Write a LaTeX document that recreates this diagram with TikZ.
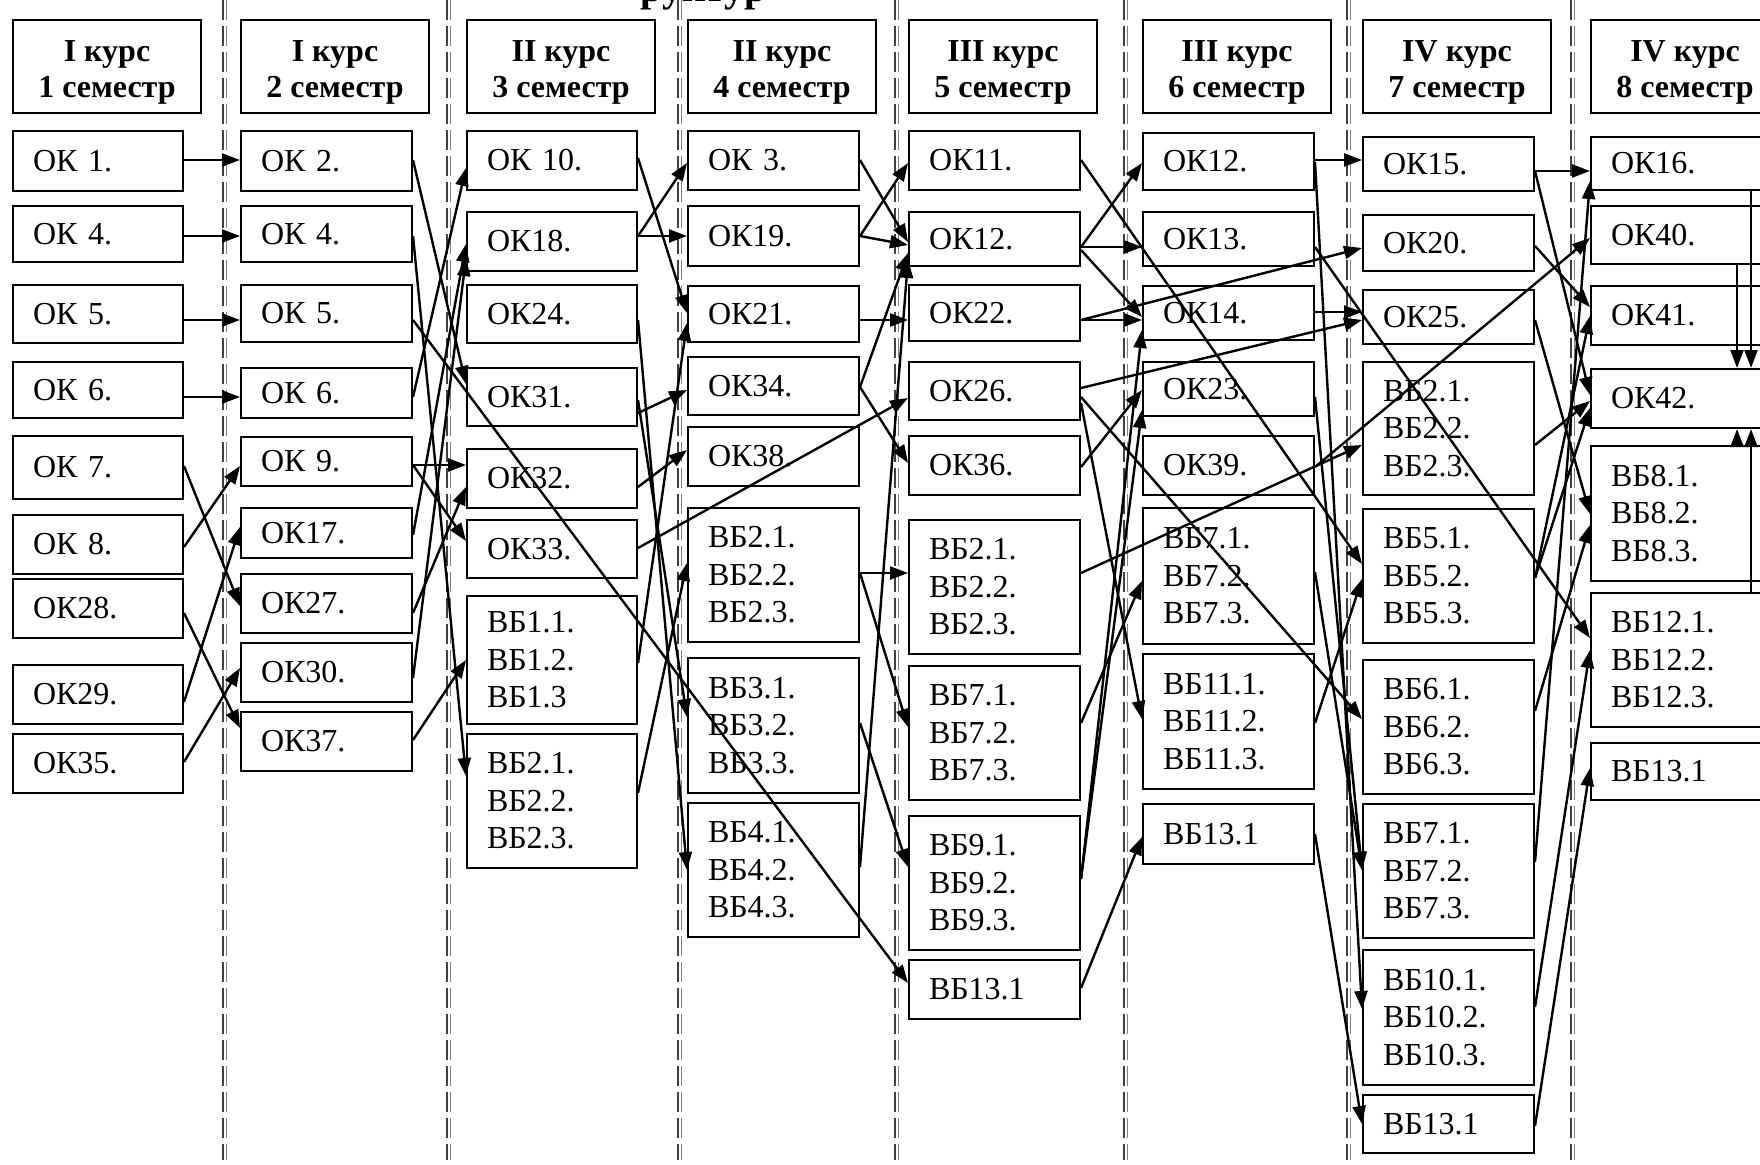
\documentclass[tikz,border=0pt]{standalone}
\usepackage{fontspec}
\setmainfont{Liberation Serif}
\usetikzlibrary{arrows.meta}
\tikzset{
  bxs/.style={draw, line width=2pt, inner xsep=20pt, inner ysep=0pt, align=left, font=\fontsize{32}{37.5}\selectfont, anchor=center},
  hdr/.style={draw, line width=2pt, inner sep=0pt, minimum width=188pt, minimum height=93pt, align=center, font=\bfseries\fontsize{32}{36}\selectfont},
  arr/.style={line width=2.4pt, -{Triangle[length=18pt,width=13pt]}},
  sepa/.style={line width=1.6pt, black!75, dash pattern=on 20pt off 6pt},
  sepb/.style={line width=1pt, black!50, dash pattern=on 20pt off 6pt},
}
\newcommand\mybox[6]{%
  \pgfmathsetmacro\mybw{#4-#2}%
  \pgfmathsetmacro\mybh{#5-#3}%
  \pgfmathsetmacro\mybtw{#4-#2-40}%
  \pgfmathsetmacro\mybcx{(#2+#4)/2}%
  \pgfmathsetmacro\mybcy{(#3+#5)/2}%
  \node[bxs, minimum width=\mybw pt, minimum height=\mybh pt, text width=\mybtw pt] (#1) at (\mybcx,\mybcy) {#6};}
\newcommand\cn[4]{\draw[arr] (#1.east |- 0,#2) -- (#3.west |- 0,#4);}
\newcommand\hstrut{\rule{0pt}{33pt}}
\begin{document}
\begin{tikzpicture}[x=1pt,y=-1pt]
\useasboundingbox (0,0) rectangle (1760,1164);
\clip (0,0) rectangle (1760,1164);
% separators
\foreach \sx in {223,447,678,895,1124,1347,1571} {
  \draw[sepa] (\sx,0) -- (\sx,1160);
  \draw[sepb] ({\sx+3},0) -- ({\sx+3},1160);
}
% partial title (cut off at the top edge, as in the reference)
\node[font=\bfseries\fontsize{40}{44}\selectfont, anchor=base, inner sep=0pt] (ttl) at (704,2) {руктур};
% headers
\node[hdr] (h1) at (107,66.5) {\hstrut I курс\\1 семестр};
\node[hdr] (h2) at (335,66.5) {\hstrut I курс\\2 семестр};
\node[hdr] (h3) at (561,66.5) {\hstrut II курс\\3 семестр};
\node[hdr] (h4) at (782,66.5) {\hstrut II курс\\4 семестр};
\node[hdr] (h5) at (1003,66.5) {\hstrut III курс\\5 семестр};
\node[hdr] (h6) at (1237,66.5) {\hstrut III курс\\6 семестр};
\node[hdr] (h7) at (1457,66.5) {\hstrut IV курс\\7 семестр};
\node[hdr] (h8) at (1685,66.5) {\hstrut IV курс\\8 семестр};
% column 1
\mybox{c1a}{13}{131}{183}{191}{ОК 1.}
\mybox{c1b}{13}{206}{183}{262}{ОК 4.}
\mybox{c1c}{13}{285}{183}{343}{ОК 5.}
\mybox{c1d}{13}{362}{183}{418}{ОК 6.}
\mybox{c1e}{13}{436}{183}{499}{ОК 7.}
\mybox{c1f}{13}{515}{183}{574}{ОК 8.}
\mybox{c1g}{13}{579}{183}{638}{ОК28.}
\mybox{c1h}{13}{665}{183}{724}{ОК29.}
\mybox{c1i}{13}{734}{183}{793}{ОК35.}
% column 2
\mybox{c2a}{241}{131}{412}{191}{ОК 2.}
\mybox{c2b}{241}{206}{412}{262}{ОК 4.}
\mybox{c2c}{241}{285}{412}{342}{ОК 5.}
\mybox{c2d}{241}{368}{412}{418}{ОК 6.}
\mybox{c2e}{241}{437}{412}{486}{ОК 9.}
\mybox{c2f}{241}{508}{412}{558}{ОК17.}
\mybox{c2g}{241}{574}{412}{633}{ОК27.}
\mybox{c2h}{241}{643}{412}{702}{ОК30.}
\mybox{c2i}{241}{712}{412}{771}{ОК37.}
% column 3
\mybox{c3a}{467}{131}{637}{190}{ОК 10.}
\mybox{c3b}{467}{212}{637}{271}{ОК18.}
\mybox{c3c}{467}{285}{637}{343}{ОК24.}
\mybox{c3d}{467}{368}{637}{426}{ОК31.}
\mybox{c3e}{467}{449}{637}{508}{ОК32.}
\mybox{c3f}{467}{520}{637}{578}{ОК33.}
\mybox{c3g}{467}{596}{637}{724}{ВБ1.1.\\ВБ1.2.\\ВБ1.3}
\mybox{c3h}{467}{734}{637}{868}{ВБ2.1.\\ВБ2.2.\\ВБ2.3.}
% column 4
\mybox{c4a}{688}{131}{859}{190}{ОК 3.}
\mybox{c4b}{688}{206}{859}{266}{ОК19.}
\mybox{c4c}{688}{286}{859}{342}{ОК21.}
\mybox{c4d}{688}{357}{859}{415}{ОК34.}
\mybox{c4e}{688}{427}{859}{486}{ОК38.}
\mybox{c4f}{688}{508}{859}{642}{ВБ2.1.\\ВБ2.2.\\ВБ2.3.}
\mybox{c4g}{688}{658}{859}{793}{ВБ3.1.\\ВБ3.2.\\ВБ3.3.}
\mybox{c4h}{688}{803}{859}{937}{ВБ4.1.\\ВБ4.2.\\ВБ4.3.}
% column 5
\mybox{c5a}{909}{131}{1080}{190}{ОК11.}
\mybox{c5b}{909}{212}{1080}{266}{ОК12.}
\mybox{c5c}{909}{285}{1080}{341}{ОК22.}
\mybox{c5d}{909}{362}{1080}{420}{ОК26.}
\mybox{c5e}{909}{436}{1080}{495}{ОК36.}
\mybox{c5f}{909}{520}{1080}{654}{ВБ2.1.\\ВБ2.2.\\ВБ2.3.}
\mybox{c5g}{909}{666}{1080}{800}{ВБ7.1.\\ВБ7.2.\\ВБ7.3.}
\mybox{c5h}{909}{816}{1080}{950}{ВБ9.1.\\ВБ9.2.\\ВБ9.3.}
\mybox{c5i}{909}{960}{1080}{1019}{ВБ13.1}
% column 6
\mybox{c6a}{1143}{133}{1314}{190}{ОК12.}
\mybox{c6b}{1143}{212}{1314}{266}{ОК13.}
\mybox{c6c}{1143}{286}{1314}{340}{ОК14.}
\mybox{c6d}{1143}{362}{1314}{416}{ОК23.}
\mybox{c6e}{1143}{436}{1314}{495}{ОК39.}
\mybox{c6f}{1143}{508}{1314}{644}{ВБ7.1.\\ВБ7.2.\\ВБ7.3.}
\mybox{c6g}{1143}{654}{1314}{789}{ВБ11.1.\\ВБ11.2.\\ВБ11.3.}
\mybox{c6h}{1143}{804}{1314}{864}{ВБ13.1}
% column 7
\mybox{c7a}{1363}{137}{1534}{191}{ОК15.}
\mybox{c7b}{1363}{215}{1534}{271}{ОК20.}
\mybox{c7c}{1363}{290}{1534}{344}{ОК25.}
\mybox{c7d}{1363}{362}{1534}{495}{ВБ2.1.\\ВБ2.2.\\ВБ2.3.}
\mybox{c7e}{1363}{509}{1534}{643}{ВБ5.1.\\ВБ5.2.\\ВБ5.3.}
\mybox{c7f}{1363}{660}{1534}{794}{ВБ6.1.\\ВБ6.2.\\ВБ6.3.}
\mybox{c7g}{1363}{804}{1534}{938}{ВБ7.1.\\ВБ7.2.\\ВБ7.3.}
\mybox{c7h}{1363}{950}{1534}{1085}{ВБ10.1.\\ВБ10.2.\\ВБ10.3.}
\mybox{c7i}{1363}{1095}{1534}{1153}{ВБ13.1}
% column 8
\mybox{c8a}{1591}{137}{1762}{190}{ОК16.}
\mybox{c8b}{1591}{206}{1762}{264}{ОК40.}
\mybox{c8c}{1591}{286}{1762}{345}{ОК41.}
\mybox{c8d}{1591}{369}{1762}{428}{ОК42.}
\mybox{c8e}{1591}{446}{1762}{581}{ВБ8.1.\\ВБ8.2.\\ВБ8.3.}
\mybox{c8f}{1591}{593}{1762}{727}{ВБ12.1.\\ВБ12.2.\\ВБ12.3.}
\mybox{c8g}{1591}{743}{1762}{800}{ВБ13.1}
% col1 -> col2
\cn{c1a}{160}{c2a}{160}
\cn{c1b}{236}{c2b}{236}
\cn{c1c}{320}{c2c}{320}
\cn{c1d}{397}{c2d}{397}
\cn{c1e}{466}{c2g}{606}
\cn{c1f}{547}{c2e}{466}
\cn{c1g}{613}{c2i}{728}
\cn{c1h}{702}{c2f}{527}
\cn{c1i}{762}{c2h}{668}
% col2 -> col3
\cn{c2a}{160}{c3d}{384}
\cn{c2b}{236}{c3h}{776}
\cn{c2c}{320}{c5i}{983}
\cn{c2d}{397}{c3a}{168}
\cn{c2e}{465}{c3e}{465}
\cn{c2e}{465}{c3f}{541}
\cn{c2f}{535}{c3b}{244}
\cn{c2g}{613}{c3e}{487}
\cn{c2h}{678}{c3b}{258}
\cn{c2i}{740}{c3g}{660}
% col3 -> col4
\cn{c3a}{158}{c4c}{313}
\cn{c3b}{236}{c4a}{163}
\cn{c3b}{236}{c4b}{236}
\cn{c3c}{320}{c4h}{870}
\cn{c3d}{413}{c4d}{390}
\cn{c3d}{400}{c4g}{717}
\cn{c3e}{487}{c4e}{450}
\cn{c3f}{548}{c5d}{398}
\cn{c3g}{663}{c4c}{323}
\cn{c3h}{793}{c4f}{563}
% col4 -> col5
\cn{c4a}{160}{c5b}{242}
\cn{c4b}{236}{c5a}{163}
\cn{c4b}{236}{c5b}{245}
\cn{c4c}{320}{c5c}{320}
\cn{c4d}{387}{c5b}{253}
\cn{c4d}{387}{c5e}{463}
\cn{c4f}{573}{c5f}{573}
\cn{c4f}{573}{c5g}{727}
\cn{c4g}{723}{c5h}{867}
\cn{c4h}{867}{c5b}{260}
% col5 -> col6/7
\cn{c5a}{160}{c7e}{564}
\cn{c5b}{247}{c6a}{163}
\cn{c5b}{247}{c6b}{247}
\cn{c5b}{250}{c6c}{317}
\cn{c5c}{320}{c6c}{320}
\cn{c5c}{320}{c7b}{248}
\cn{c5d}{388}{c7c}{320}
\cn{c5d}{397}{c7f}{719}
\cn{c5d}{403}{c6g}{719}
\cn{c5e}{467}{c6d}{390}
\cn{c5f}{573}{c7d}{445}
\cn{c5g}{723}{c6f}{581}
\cn{c5h}{879}{c6c}{330}
\cn{c5h}{879}{c6d}{410}
\cn{c5i}{988}{c6h}{837}
% col6 -> col7/8
\cn{c6a}{160}{c7a}{160}
\cn{c6a}{162}{c7h}{1009}
\cn{c6b}{247}{c8f}{638}
\cn{c6c}{312}{c7c}{312}
\cn{c6d}{397}{c7g}{870}
\cn{c6e}{467}{c8b}{238}
\cn{c6f}{572}{c7g}{870}
\cn{c6g}{723}{c7e}{579}
\cn{c6h}{834}{c7i}{1124}
% col7 -> col8
\cn{c7a}{171}{c8a}{171}
\cn{c7a}{171}{c8d}{395}
\cn{c7b}{246}{c8c}{307}
\cn{c7c}{320}{c8e}{514}
\cn{c7d}{445}{c8d}{401}
\cn{c7e}{578}{c8c}{316}
\cn{c7e}{578}{c8d}{408}
\cn{c7f}{711}{c8e}{525}
\cn{c7g}{862}{c8a}{181}
\cn{c7h}{1007}{c8f}{650}
\cn{c7i}{1126}{c8g}{768}
% vertical arrows in column 8
\draw[arr] (c8a.south -| 1751,0) -- (c8d.north -| 1751,0);
\draw[arr] (c8b.south -| 1737,0) -- (c8d.north -| 1737,0);
\draw[arr] (c8e.north -| 1737,0) -- (c8d.south -| 1737,0);
\draw[arr] (c8f.north -| 1751,0) -- (c8d.south -| 1751,0);
\end{tikzpicture}
\end{document}
